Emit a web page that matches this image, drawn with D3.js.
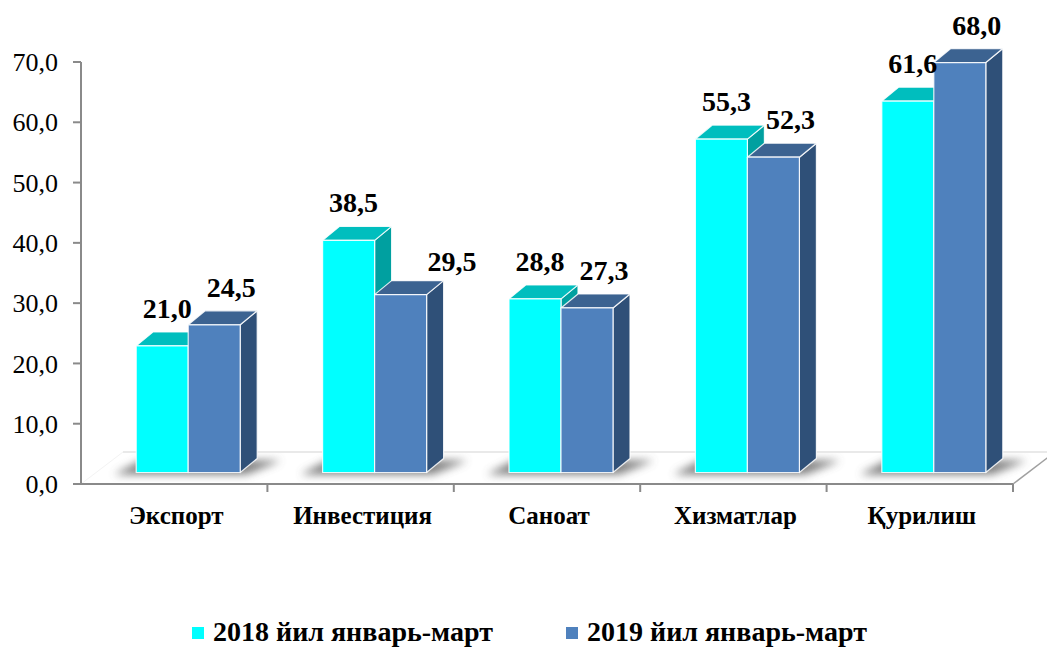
<!DOCTYPE html>
<html>
<head>
<meta charset="utf-8">
<script src="https://cdn.jsdelivr.net/npm/d3@7"></script>
<style>
  body { margin: 0; background: #fff; }
  svg { display: block; }
</style>
</head>
<body>
<svg id="chart" width="1047" height="648"></svg>
<script>
var categories = ["Экспорт", "Инвестиция", "Саноат", "Хизматлар", "Қурилиш"];
var seriesNames = ["2018 йил январь-март", "2019 йил январь-март"];
var values2018 = [21.0, 38.5, 28.8, 55.3, 61.6];
var values2019 = [24.5, 29.5, 27.3, 52.3, 68.0];
var yTicks = [0, 10, 20, 30, 40, 50, 60, 70];

var series = [values2018, values2019];
var FONT = "'Liberation Serif','Times New Roman',serif";
var fmt = function(v) { return v.toFixed(1).replace(".", ","); };

var svg = d3.select("#chart");

var x0 = d3.scaleBand().domain(categories).range([81, 1013]);
var x1 = d3.scaleBand().domain([0, 1]).range([-52, 52]);
var y = d3.scaleLinear().domain([0, 70]).range([484, 62]);

// 3d look: bars sit a little behind the front edge of the floor
var off = { x: 14, y: -11.5 };
var dep = { x: 17, y: -14 };
var floorDep = { x: 42, y: -32 };

var colors = [
  { front: "#00ffff", top: "#00bebe", side: "#00a0a0" },
  { front: "#4f81bd", top: "#3c6391", side: "#2f5078" }
];

var defs = svg.append("defs");
defs.append("filter").attr("id", "blur")
  .attr("x", "-50%").attr("y", "-50%").attr("width", "200%").attr("height", "200%")
  .append("feGaussianBlur").attr("stdDeviation", 4);

var pt = function(p) { return p.map(function(d) { return d.join(","); }).join(" "); };

// floor
var fl = x0.range()[0], fr = x0.range()[1], fy = y(0);
svg.append("polygon")
  .attr("points", pt([[fl, fy], [fr, fy], [fr + floorDep.x, fy + floorDep.y], [fl + floorDep.x, fy + floorDep.y]]))
  .attr("fill", "#fff");
svg.append("line")
  .attr("x1", fl + floorDep.x).attr("x2", fr + floorDep.x)
  .attr("y1", fy + floorDep.y).attr("y2", fy + floorDep.y)
  .attr("stroke", "#e2e2e2").attr("stroke-width", 1.5);
svg.append("line")
  .attr("x1", fl).attr("x2", fl + floorDep.x)
  .attr("y1", fy).attr("y2", fy + floorDep.y)
  .attr("stroke", "#f3f3f3").attr("stroke-width", 1);
svg.append("line")
  .attr("x1", fr).attr("x2", fr + floorDep.x)
  .attr("y1", fy).attr("y2", fy + floorDep.y)
  .attr("stroke", "#a0a0a0").attr("stroke-width", 1.5);

// shadows under each pair of bars
var bw = x1.bandwidth();
categories.forEach(function(c) {
  var cx = x0(c) + x0.bandwidth() / 2;
  var left = cx + x1(0) + off.x, right = cx + x1(1) + bw + off.x;
  var by = y(0) + off.y;
  svg.append("polygon")
    .attr("points", pt([[left - 22, by + 2], [right + 6, by + 2],
      [right + dep.x + 24, by + dep.y + 2], [left + dep.x - 12, by + dep.y + 2]]))
    .attr("fill", "#555").attr("opacity", 0.75)
    .attr("filter", "url(#blur)");
});

// bars
var bars = svg.append("g");
categories.forEach(function(c, i) {
  series.forEach(function(vals, s) {
    var fx = x0(c) + x0.bandwidth() / 2 + x1(s) + off.x;
    var ty = y(vals[i]) + off.y, by = y(0) + off.y;
    var g = bars.append("g")
      .attr("stroke", "#fff").attr("stroke-opacity", 0.85).attr("stroke-width", 1.2)
      .attr("stroke-linejoin", "round");
    g.append("polygon")
      .attr("points", pt([[fx + bw, ty], [fx + bw + dep.x, ty + dep.y], [fx + bw + dep.x, by + dep.y], [fx + bw, by]]))
      .attr("fill", colors[s].side);
    g.append("polygon")
      .attr("points", pt([[fx, ty], [fx + bw, ty], [fx + bw + dep.x, ty + dep.y], [fx + dep.x, ty + dep.y]]))
      .attr("fill", colors[s].top);
    g.append("rect")
      .attr("x", fx).attr("y", ty).attr("width", bw).attr("height", by - ty)
      .attr("fill", colors[s].front);
  });
});

// value labels
var labels = svg.append("g")
  .attr("font-family", FONT).attr("font-weight", "bold").attr("font-size", 28).attr("fill", "#000");
categories.forEach(function(c, i) {
  series.forEach(function(vals, s) {
    var fx = x0(c) + x0.bandwidth() / 2 + x1(s) + off.x;
    var ty = y(vals[i]) + off.y;
    var base = ty - 28;
    var t = labels.append("text").attr("y", base).text(fmt(vals[i]));
    if (s === 0) {
      t.attr("x", fx + bw / 2 + 5).attr("text-anchor", "middle");
    } else {
      // if the neighbouring bar rises past the label, push label to the right
      var prevTop = y(series[s - 1][i]) + off.y;
      if (prevTop < base - 20) {
        t.attr("x", fx + bw + 1).attr("y", base + 4).attr("text-anchor", "start");
      } else {
        t.attr("x", fx + bw / 2 + dep.x).attr("text-anchor", "middle");
      }
    }
  });
});

// y axis
var axisCol = "#8a8a8a";
svg.append("line")
  .attr("x1", 81).attr("x2", 81).attr("y1", y(70)).attr("y2", y(0))
  .attr("stroke", axisCol).attr("stroke-width", 2);
var yt = svg.append("g");
yTicks.forEach(function(v) {
  yt.append("line").attr("x1", 73).attr("x2", 81).attr("y1", y(v)).attr("y2", y(v))
    .attr("stroke", axisCol).attr("stroke-width", 2);
  yt.append("text").attr("x", 58).attr("y", y(v)).attr("dy", "0.35em")
    .attr("text-anchor", "end").attr("font-family", FONT).attr("font-size", 26)
    .attr("fill", "#000").text(fmt(v));
});

// x axis
svg.append("line")
  .attr("x1", fl).attr("x2", fr).attr("y1", y(0)).attr("y2", y(0))
  .attr("stroke", axisCol).attr("stroke-width", 2);
categories.forEach(function(c) {
  var xr = x0(c) + x0.bandwidth();
  svg.append("line").attr("x1", xr).attr("x2", xr).attr("y1", y(0)).attr("y2", y(0) + 8)
    .attr("stroke", axisCol).attr("stroke-width", 2);
  svg.append("text")
    .attr("x", x0(c) + x0.bandwidth() / 2 + 2).attr("y", 524)
    .attr("text-anchor", "middle").attr("font-family", FONT).attr("font-weight", "bold")
    .attr("font-size", 25).attr("fill", "#000").text(c);
});

// legend
var legX = [192, 566];
seriesNames.forEach(function(n, s) {
  svg.append("rect").attr("x", legX[s]).attr("y", 627).attr("width", 12).attr("height", 12)
    .attr("fill", colors[s].front);
  svg.append("text").attr("x", legX[s] + 21).attr("y", 641)
    .attr("font-family", FONT).attr("font-weight", "bold").attr("font-size", 28)
    .attr("fill", "#000").text(n);
});
</script>
</body>
</html>
